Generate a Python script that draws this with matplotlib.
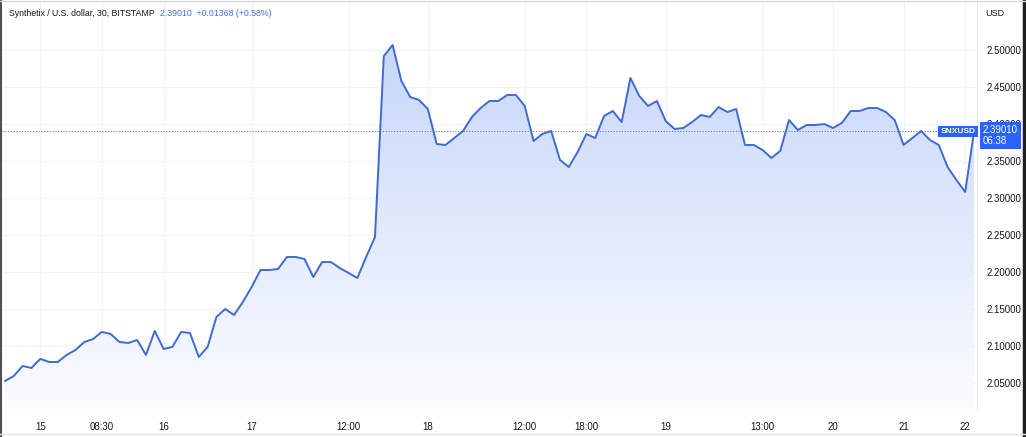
import matplotlib
matplotlib.use('Agg')
import matplotlib.pyplot as plt
import numpy as np
from matplotlib.transforms import blended_transform_factory
from matplotlib.lines import Line2D

# ─── Data (30-min bars, SNX/USD, Bitstamp) ───
prices = [
    2.0527, 2.0595, 2.0730, 2.0703, 2.0825, 2.0784, 2.0784, 2.0879, 2.0946, 2.1054,
    2.1095, 2.1190, 2.1162, 2.1054, 2.1041, 2.1081, 2.0879, 2.1203, 2.0960, 2.0987,
    2.1190, 2.1176, 2.0852,
    2.0987, 2.1392, 2.1500, 2.1419, 2.1595, 2.1798, 2.2027, 2.2027, 2.2041, 2.2203,
    2.2203, 2.2176, 2.1933, 2.2135, 2.2135, 2.2054, 2.1987, 2.1919, 2.2203, 2.2473,
    2.4919, 2.5068, 2.4581, 2.4365, 2.4325, 2.4203, 2.3730, 2.3717, 2.3811, 2.3906,
    2.4095, 2.4217, 2.4311, 2.4311, 2.4392, 2.4392, 2.4244, 2.3771, 2.3865, 2.3906,
    2.3514,
    2.3419, 2.3622, 2.3865, 2.3811, 2.4108, 2.4176, 2.4027, 2.4622, 2.4379, 2.4244,
    2.4311, 2.4041, 2.3933, 2.3946, 2.4027, 2.4122, 2.4095, 2.4230, 2.4162, 2.4203,
    2.3717, 2.3717,
    2.3649, 2.3541, 2.3635, 2.4054, 2.3919, 2.3987, 2.3987, 2.4000, 2.3946, 2.4014,
    2.4176, 2.4176, 2.4217, 2.4217, 2.4162, 2.4054, 2.3717, 2.3811, 2.3906, 2.3784,
    2.3717, 2.3419, 2.3244, 2.3081, 2.3901,
]
last_price = 2.39010
change = 0.01368
change_pct = 0.58
countdown = '06:38'

tick_idx = [4, 11, 18, 28, 39, 48, 59, 66, 75, 86, 94, 102, 109]
tick_labels = ['15', '08:30', '16', '17', '12:00', '18', '12:00', '18:00',
               '19', '13:00', '20', '21', '22']
price_ticks = [2.05, 2.10, 2.15, 2.20, 2.25, 2.30, 2.35, 2.40, 2.45, 2.50]

# ─── Style ───
plt.rcParams['font.family'] = ['Liberation Sans', 'DejaVu Sans']
LINE = '#3f6bd0'
BLUE = '#2962ff'
TEXT = '#131722'
GRID = '#f0f3fa'

W, H = 1026, 437
fig = plt.figure(figsize=(W / 100, H / 100), dpi=100)
ax = fig.add_axes([2 / W, 1 - 410 / H, 975 / W, 408 / H])

x = np.arange(len(prices))
y = np.array(prices)
XL = (-0.34, 110.34)
YL = (2.0135, 2.5649)

# gradient area fill clipped to the area under the line
poly = ax.fill_between(x, y, YL[0], color='none', lw=0)
t = np.linspace(0, 1, 256)[:, None]
top = np.array([0.78, 0.84, 0.98])
bot = np.array([0.985, 0.99, 1.0])
grad = np.ones((256, 1, 4))
grad[:, :, :3] = (top * (1 - t) + bot * t)[:, None, :]
img = ax.imshow(grad, aspect='auto', extent=[XL[0], XL[1], YL[0], 2.51],
                origin='upper', zorder=1)
img.set_clip_path(poly.get_paths()[0], transform=ax.transData)
ax.set_xlim(*XL)
ax.set_ylim(*YL)

ax.plot(x, y, color=LINE, lw=1.4, zorder=3, solid_joinstyle='round')

# last price dotted line
ax.axhline(last_price, color='#6f7a99', lw=0.8, ls=(0, (1, 1.5)), zorder=2)

# grid + axes
ax.set_xticks(tick_idx)
ax.set_xticklabels(tick_labels, fontsize=7, color=TEXT)
ax.set_yticks(price_ticks)
ax.set_yticklabels([f'{v:.5f}' for v in price_ticks], fontsize=7, color=TEXT)
ax.yaxis.tick_right()
ax.tick_params(axis='y', length=0, pad=7)
ax.tick_params(axis='x', length=0, pad=9)
ax.grid(True, color=GRID, lw=0.8, zorder=0)
ax.set_axisbelow(True)
for s in ['top', 'left', 'bottom']:
    ax.spines[s].set_visible(False)
ax.spines['right'].set_color('#e6e9f0')
ax.spines['right'].set_linewidth(0.8)

# header text
head = fig.text(9 / W, 1 - 14 / H, 'Synthetix / U.S. dollar, 30, BITSTAMP',
                fontsize=6.3, color=TEXT, va='center', ha='left')
ax.annotate(f'{last_price:.5f}  +{change:.5f} (+{change_pct:.2f}%)',
            xy=(1, 0.5), xycoords=head, xytext=(4, 0), textcoords='offset points',
            fontsize=6.3, color='#3d74e8', va='center', ha='left',
            annotation_clip=False)
fig.text(985 / W, 1 - 14 / H, 'USD', fontsize=6.5, color=TEXT, va='center', ha='left')

# labels for the last price
trans = blended_transform_factory(ax.transAxes, ax.transData)
ax.text(0.9985, last_price, 'SNXUSD', transform=trans, ha='right', va='center',
        fontsize=6, color='white', fontweight='bold', zorder=6,
        bbox=dict(boxstyle='square,pad=0.25', fc=BLUE, ec='none'))
ax.text(1.006, last_price - 0.0055, f'{last_price:.5f}\n{countdown}', transform=trans,
        ha='left', va='center', fontsize=7, color='white', linespacing=1.05,
        zorder=6, clip_on=False,
        bbox=dict(boxstyle='square,pad=0.3', fc=BLUE, ec='none'))

# screenshot frame
fig.add_artist(Line2D([0.6 / W, 0.6 / W], [0, 1], color='#505050', lw=1.5))
fig.add_artist(Line2D([1 - 2.5 / W, 1 - 2.5 / W], [0, 1], color='#202020', lw=2.5))
fig.add_artist(Line2D([0, 1], [1 - 0.5 / H, 1 - 0.5 / H], color='#d8d8d8', lw=1))
fig.add_artist(Line2D([0, 1], [3.5 / H, 3.5 / H], color='#e0e3eb', lw=1))

fig.savefig('out.png', dpi=100)
